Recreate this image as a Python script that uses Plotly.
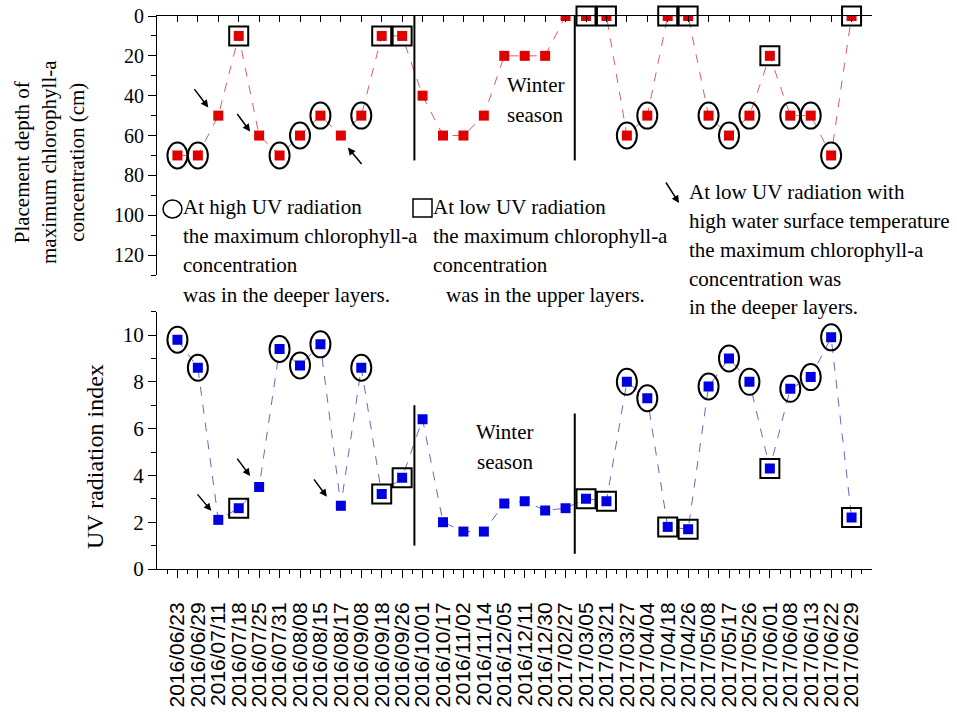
import plotly.graph_objects as go

# ---------------- data ----------------
dates = ["2016/06/23", "2016/06/29", "2016/07/11", "2016/07/18", "2016/07/25", "2016/07/31",
         "2016/08/08", "2016/08/15", "2016/08/17", "2016/09/08", "2016/09/18", "2016/09/26",
         "2016/10/01", "2016/10/17", "2016/11/02", "2016/11/14", "2016/12/05", "2016/12/11",
         "2016/12/30", "2017/02/27", "2017/03/05", "2017/03/21", "2017/03/27", "2017/04/04",
         "2017/04/18", "2017/04/26", "2017/05/08", "2017/05/17", "2017/05/26", "2017/06/01",
         "2017/06/08", "2017/06/13", "2017/06/22", "2017/06/29"]

depth_cm = [70, 70, 50, 10, 60, 70, 60, 50, 60, 50, 10, 10,
            40, 60, 60, 50, 20, 20, 20, 0, 0, 0, 60, 50,
            0, 0, 50, 60, 50, 20, 50, 50, 70, 0]

uv_index = [9.8, 8.6, 2.1, 2.6, 3.5, 9.4, 8.7, 9.6, 2.7, 8.6, 3.2, 3.9,
            6.4, 2.0, 1.6, 1.6, 2.8, 2.9, 2.5, 2.6, 3.0, 2.9, 8.0, 7.3,
            1.8, 1.7, 7.8, 9.0, 8.0, 4.3, 7.7, 8.2, 9.9, 2.2]

high_uv_dates = ["2016/06/23", "2016/06/29", "2016/07/31", "2016/08/08", "2016/08/15", "2016/09/08",
                 "2017/03/27", "2017/04/04", "2017/05/08", "2017/05/17", "2017/05/26",
                 "2017/06/08", "2017/06/13", "2017/06/22"]
low_uv_dates = ["2016/07/18", "2016/09/18", "2016/09/26", "2017/03/05", "2017/03/21",
                "2017/04/18", "2017/04/26", "2017/06/01", "2017/06/29"]
warm_low_uv_dates = ["2016/07/11", "2016/07/25", "2016/08/17"]

winter_after = "2016/09/26"
winter_last = "2017/02/27"

depth_ticks = [0, 20, 40, 60, 80, 100, 120]
uv_ticks = [0, 2, 4, 6, 8, 10]

# ---------------- helpers ----------------
xi = list(range(len(dates)))
pos = {d: i for i, d in enumerate(dates)}
SERIF = "Liberation Serif"
SANS = "Liberation Sans"

fig = go.Figure()

# top series
fig.add_trace(go.Scatter(x=xi, y=depth_cm, mode="lines+markers", xaxis="x", yaxis="y",
                         line=dict(color="#d86060", width=1, dash="dash"),
                         marker=dict(symbol="square", size=10, color="#e00000"),
                         showlegend=False, hoverinfo="skip"))
fig.add_trace(go.Scatter(x=[pos[d] for d in low_uv_dates], y=[depth_cm[pos[d]] for d in low_uv_dates],
                         mode="markers", xaxis="x", yaxis="y", cliponaxis=False,
                         marker=dict(symbol="square-open", size=19, color="black",
                                     line=dict(color="black", width=2)),
                         showlegend=False, hoverinfo="skip"))
# bottom series
fig.add_trace(go.Scatter(x=xi, y=uv_index, mode="lines+markers", xaxis="x2", yaxis="y2",
                         line=dict(color="#6868c0", width=1, dash="dash"),
                         marker=dict(symbol="square", size=10, color="#0000e0"),
                         showlegend=False, hoverinfo="skip"))
fig.add_trace(go.Scatter(x=[pos[d] for d in low_uv_dates], y=[uv_index[pos[d]] for d in low_uv_dates],
                         mode="markers", xaxis="x2", yaxis="y2", cliponaxis=False,
                         marker=dict(symbol="square-open", size=19, color="black",
                                     line=dict(color="black", width=2)),
                         showlegend=False, hoverinfo="skip"))

shapes = []
for d in high_uv_dates:
    i = pos[d]
    for xr, yr, v in (("x", "y", depth_cm[i]), ("x2", "y2", uv_index[i])):
        shapes.append(dict(type="circle", xref=xr, yref=yr, xsizemode="pixel", ysizemode="pixel",
                           xanchor=i, yanchor=v, x0=-10, x1=10, y0=-13, y1=13,
                           line=dict(color="black", width=2), layer="above"))

# winter season separators
b1 = pos[winter_after] + 0.6
b2 = pos[winter_last] + 0.45
for b in (b1, b2):
    shapes.append(dict(type="line", xref="x", yref="y", x0=b, x1=b, y0=0, y1=72.5,
                       line=dict(color="black", width=2)))
shapes.append(dict(type="line", xref="x2", yref="y2", x0=b1, x1=b1, y0=1.0, y1=7.0,
                   line=dict(color="black", width=2)))
shapes.append(dict(type="line", xref="x2", yref="y2", x0=b2, x1=b2, y0=0.65, y1=6.65,
                   line=dict(color="black", width=2)))

# legend glyphs
W, H = 957.0, 713.0
shapes.append(dict(type="circle", xref="paper", yref="paper", xsizemode="pixel", ysizemode="pixel",
                   xanchor=172.5 / W, yanchor=1 - 209 / H, x0=-9.5, x1=9.5, y0=-9, y1=9,
                   line=dict(color="black", width=1.5)))
shapes.append(dict(type="rect", xref="paper", yref="paper", xsizemode="pixel", ysizemode="pixel",
                   xanchor=422.5 / W, yanchor=1 - 208 / H, x0=-9.5, x1=9.5, y0=-9, y1=9,
                   line=dict(color="black", width=1.5)))

annotations = []
# arrows (offsets in px from the data point)
top_arrows = [(-10, -8, -15, -20), (-9, -4, -14, -19), (7, 12, 15, 18)]
bot_arrows = [(-7, -9, -15, -18), (-9, -11, -14, -19), (-14, -9, -14, -19)]
for d, ta, ba in zip(warm_low_uv_dates, top_arrows, bot_arrows):
    i = pos[d]
    for xr, yr, v, a in (("x", "y", depth_cm[i], ta), ("x2", "y2", uv_index[i], ba)):
        annotations.append(dict(x=i, y=v, xref=xr, yref=yr, xshift=a[0], yshift=-a[1],
                                ax=a[2], ay=a[3], showarrow=True, arrowhead=2, arrowsize=1,
                                arrowwidth=1.5, arrowcolor="black", text=""))
# legend arrow
annotations.append(dict(x=679 / W, y=1 - 203 / H, xref="paper", yref="paper", ax=-14, ay=-22,
                        showarrow=True, arrowhead=2, arrowsize=1, arrowwidth=1.5,
                        arrowcolor="black", text=""))

def txt(t, x, y, size=21, xanchor="left", angle=0):
    annotations.append(dict(text=t, x=x / W, y=1 - y / H, xref="paper", yref="paper",
                            xanchor=xanchor, yanchor="middle", showarrow=False, textangle=angle,
                            font=dict(family=SERIF, size=size, color="black"), align="center"))

# legend texts
for t, y in zip(["At high UV radiation", "the maximum chlorophyll-a", "concentration",
                 "was in the deeper layers."], [207, 236, 265, 295]):
    txt(t, 181, y)
for t, x, y in zip(["At low UV radiation", "the maximum chlorophyll-a", "concentration",
                    "was in the upper layers."], [431, 431, 431, 444], [207, 236, 265, 295]):
    txt(t, x, y)
for t, y in zip(["At low UV radiation with", "high water surface temperature",
                 "the maximum chlorophyll-a", "concentration was", "in the deeper layers."],
                [192, 221, 250, 279, 307]):
    txt(t, 687, y)

# winter labels (data coords)
for xr, yr, y1, y2 in (("x", "y", 34.5, 49.5), ("x2", "y2", 5.85, 4.57)):
    xc = (b1 + b2) / 2 + (2.0 if xr == "x" else 0.5)
    for t, yy in (("Winter", y1), ("season", y2)):
        annotations.append(dict(text=t, x=xc, y=yy, xref=xr, yref=yr, showarrow=False,
                                xanchor="center", yanchor="middle",
                                font=dict(family=SERIF, size=21, color="black")))

# axis titles
txt("Placement depth of<br>maximum chlorophyll-a<br>concentration (cm)", 49, 162,
    size=21, xanchor="center", angle=-90)
txt("UV radiation index", 95, 457, size=24, xanchor="center", angle=-90)

xdom = [157 / W, 872 / W]
axis_common = dict(showgrid=False, zeroline=False, showline=True, linecolor="black",
                   linewidth=1, tickcolor="black", automargin=False)

fig.update_layout(
    width=957, height=713, template="none",
    paper_bgcolor="white", plot_bgcolor="white",
    margin=dict(l=0, r=0, t=0, b=0),
    showlegend=False, hovermode=False,
    xaxis=dict(domain=xdom, anchor="y", side="top", range=[-1, 34], tickmode="array",
               tickvals=xi, ticks="inside", ticklen=6, showticklabels=False, **axis_common),
    yaxis=dict(domain=[1 - 275 / H, 1 - 16 / H], anchor="x", range=[130, 0],
               tickmode="array", tickvals=depth_ticks, ticks="outside", ticklen=8,
               minor=dict(dtick=10, tick0=0, ticks="outside", ticklen=5, tickcolor="black"),
               tickfont=dict(family=SERIF, size=20, color="black"), **axis_common),
    xaxis2=dict(domain=xdom, anchor="y2", range=[-1, 34], tickmode="array", tickvals=xi,
                ticktext=dates, tickangle=-90, ticks="outside", ticklen=8,
                ticklabelstandoff=16,
                minor=dict(tickmode="array", tickvals=[i + 0.5 for i in range(-1, len(dates))],
                           ticks="outside", ticklen=4, tickcolor="black"),
                tickfont=dict(family=SANS, size=21, color="black"), **axis_common),
    yaxis2=dict(domain=[1 - 569 / H, 1 - 311.6 / H], anchor="x2", range=[0, 11],
                tickmode="array", tickvals=uv_ticks, ticks="outside", ticklen=8,
                minor=dict(dtick=1, tick0=0, ticks="outside", ticklen=5, tickcolor="black"),
                tickfont=dict(family=SERIF, size=21, color="black"), **axis_common),
    shapes=shapes,
    annotations=annotations,
)

fig.write_html("out.html", config={"displayModeBar": False},
               post_script="document.body.style.margin='0px';")
